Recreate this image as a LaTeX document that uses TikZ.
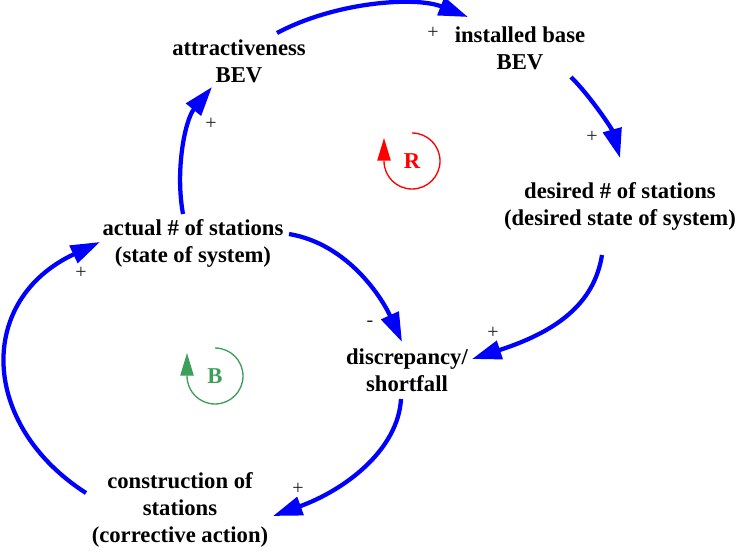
\documentclass[tikz,border=0pt]{standalone}
\usepackage{fontspec}
\setmainfont{Liberation Serif}
\usetikzlibrary{arrows.meta,calc}
\definecolor{linkblue}{RGB}{0,0,255}
\definecolor{loopred}{RGB}{255,0,0}
\definecolor{loopgreen}{RGB}{60,160,90}
\definecolor{signgray}{RGB}{30,30,30}
\begin{document}
\begin{tikzpicture}[x=0.75pt,y=-0.75pt,
  var/.style={font=\fontsize{17}{20.25}\selectfont\bfseries, align=center, inner sep=0pt},
  link/.style={draw=linkblue, line width=3.2pt, -{Triangle[length=22pt,width=14pt]}},
  sign/.style={font=\fontsize{15}{17}\selectfont, text=signgray, inner sep=0pt},
  looplabel/.style={font=\fontsize{17}{20}\selectfont\bfseries, inner sep=0pt},
  loopline/.style={line width=1pt, -{Triangle[length=17pt,width=10pt]}}
]
\useasboundingbox (0,0) rectangle (737,552);

% variables
\node[var] (attr)    at (239,64)  {\strut attractiveness\\BEV\strut};
\node[var] (inst)    at (520,51)  {\strut installed base\\BEV\strut};
\node[var] (desired) at (620,207) {\strut desired \# of stations\\(desired state of system)\strut};
\node[var] (actual)  at (193,244) {\strut actual \# of stations\\(state of system)\strut};
\node[var] (disc)    at (407,373) {\strut discrepancy/\\shortfall\strut};
\node[var] (constr)  at (180,510) {\strut construction of\\stations\\(corrective action)\strut};

% causal links
\draw[link] ([shift={(38,-31)}]attr.center)
  .. controls +(58,-31) and +(-53,-21) .. ([shift={(-52,-34)}]inst.center);
\draw[link] ([shift={(51,26)}]inst.center)
  .. controls +(20,20) and +(-8,-29) .. ([shift={(0,-49)}]desired.center);
\draw[link] ([shift={(-18,48)}]desired.center)
  .. controls +(-8,50) and +(83,-27) .. ([shift={(65,-14)}]disc.center);
\draw[link] ([shift={(96,-10)}]actual.center)
  .. controls +(59,10) and +(-20,-44) .. ([shift={(-5,-31)}]disc.center);
\draw[link] ([shift={(-6,26)}]disc.center)
  .. controls +(-3,51) and +(72,-26) .. ([shift={(93,6)}]constr.center);
\draw[link] ([shift={(-94,-17)}]constr.center)
  .. controls +(-106,-68) and +(-124,58) .. ([shift={(-93,-2)}]actual.center);
\draw[link] ([shift={(-10,-30)}]actual.center)
  .. controls +(-8,-44) and +(-27,33) .. ([shift={(-27,23)}]attr.center);

% polarities
\node[sign] (p1) at (433,33)  {+};
\node[sign] (p2) at (592,137) {+};
\node[sign] (p3) at (493,333) {+};
\node[sign] (p4) at (370,324) {-};
\node[sign] (p5) at (298,489) {+};
\node[sign] (p6) at (81,273)  {+};
\node[sign] (p7) at (211,124) {+};

% loop markers
\node[looplabel, text=loopred] (loopR) at (412,161) {R};
\draw[loopline, draw=loopred]
  ($(loopR)+(0,-28)$) .. controls +(15.5,0) and +(0,-15.5) .. ($(loopR)+(28,0)$)
  .. controls +(0,15.5) and +(15.5,0) .. ($(loopR)+(0,28)$)
  .. controls +(-15.5,0) and +(0,15.5) .. ($(loopR)+(-28,0)$)
  -- ($(loopR)+(-28,-23)$);

\node[looplabel, text=loopgreen] (loopB) at (215,376) {B};
\draw[loopline, draw=loopgreen]
  ($(loopB)+(0,-28)$) .. controls +(15.5,0) and +(0,-15.5) .. ($(loopB)+(28,0)$)
  .. controls +(0,15.5) and +(15.5,0) .. ($(loopB)+(0,28)$)
  .. controls +(-15.5,0) and +(0,15.5) .. ($(loopB)+(-28,0)$)
  -- ($(loopB)+(-28,-23)$);
\end{tikzpicture}
\end{document}
